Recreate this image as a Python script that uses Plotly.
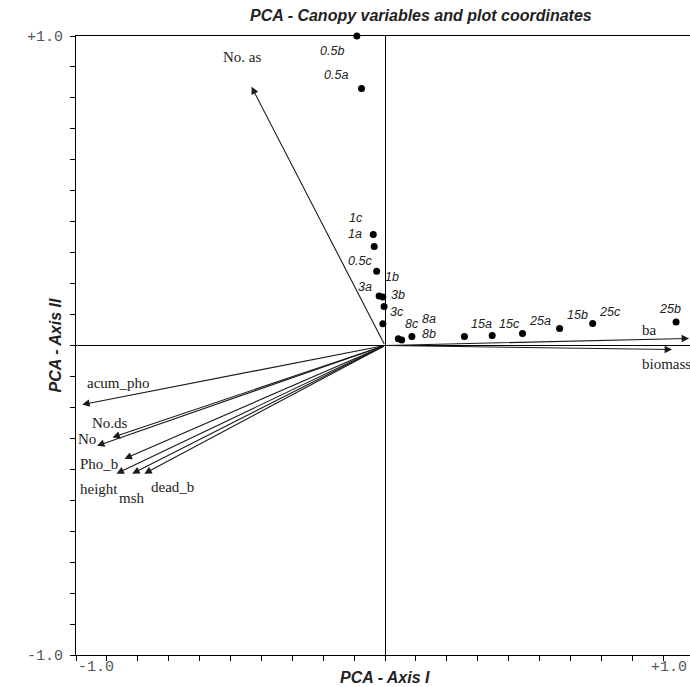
import numpy as np
import plotly.graph_objects as go

# ---- data ----
site_labels = ["0.5b", "0.5a", "1c", "1a", "0.5c", "3a", "1b", "3b", "3c",
               "8c", "8b", "8a", "15a", "15c", "25a", "15b", "25c", "25b"]
site_x = [-0.091, -0.076, -0.038, -0.035, -0.027, -0.019, -0.007, -0.003, -0.007,
          0.043, 0.054, 0.087, 0.257, 0.347, 0.445, 0.565, 0.672, 0.942]
site_y = [1.000, 0.830, 0.359, 0.320, 0.240, 0.160, 0.157, 0.126, 0.070,
          0.022, 0.018, 0.029, 0.029, 0.032, 0.039, 0.055, 0.071, 0.076]

var_labels = ["No. as", "ba", "biomass", "acum_pho", "No.ds", "No",
              "Pho_b", "height", "msh", "dead_b"]
var_x = [-0.432, 0.984, 0.929, -0.980, -0.882, -0.932, -0.843, -0.869, -0.818, -0.779]
var_y = [0.836, 0.023, -0.013, -0.191, -0.297, -0.324, -0.366, -0.414, -0.414, -0.414]

# label offsets in pixels (style)
site_dx = [-25, -26, -17, -19, -17, -14, 9, 14, 14, 14, 27, 17, 17, 17, 17, 18, 17, -6]
site_dy = [-15, 14, 16, 12, 10, 9, 20, 12, 12, 15, 6, 18, 13, 12, 12, 13, 12, 13]
var_dx = [-10, -40, -6, 36, -2, -10, -26, -17, 0, 28]
var_dy = [30, 8, -14, 22, 14, 7, -5, -15, -24, -13]

title = "PCA - Canopy variables and plot coordinates"
xtitle = "PCA - Axis I"
ytitle = "PCA - Axis II"

W, H = 690, 687
ml, mr, mt, mb = 76, 0, 36, 32
px_per_unit = 309.0
xmin = -1.0
xmax = (W - ml - mr) / px_per_unit + xmin

ticks = [round(v, 1) for v in np.arange(-1.0, 1.0001, 0.1)]
yticktext = ["-1.0" if abs(t + 1) < 1e-9 else ("+1.0" if abs(t - 1) < 1e-9 else "") for t in ticks]

fig = go.Figure()
fig.add_trace(go.Scatter(x=site_x, y=site_y, mode="markers",
                         marker=dict(size=7, color="black"),
                         hoverinfo="text", text=site_labels, showlegend=False,
                         cliponaxis=False))

ann = []
# arrows
for lab, x, y in zip(var_labels, var_x, var_y):
    ann.append(dict(x=x, y=y, ax=0, ay=0, xref="x", yref="y", axref="x", ayref="y",
                    text="", showarrow=True, arrowhead=2, arrowsize=1.35,
                    arrowwidth=1.1, arrowcolor="#1a1a1a", standoff=0, startstandoff=0))
# variable labels
for lab, x, y, dx, dy in zip(var_labels, var_x, var_y, var_dx, var_dy):
    ann.append(dict(x=x, y=y, xref="x", yref="y", text=lab, showarrow=False,
                    xshift=dx, yshift=dy, xanchor="center", yanchor="middle",
                    font=dict(family="Liberation Serif", size=15, color="#222")))
# site labels
for lab, x, y, dx, dy in zip(site_labels, site_x, site_y, site_dx, site_dy):
    ann.append(dict(x=x, y=y, xref="x", yref="y", text=lab, showarrow=False,
                    xshift=dx, yshift=dy, xanchor="center", yanchor="middle",
                    font=dict(family="Liberation Sans", size=12.5, color="#222",
                              style="italic")))
# x tick labels
ann.append(dict(x=-1.0, y=0, xref="x", yref="paper", text="-1.0", showarrow=False,
                xanchor="left", yanchor="middle", yshift=-12, xshift=0,
                font=dict(family="Liberation Mono", size=15, color="#555")))
ann.append(dict(x=min(1.0, (1.0 - xmin) / (xmax - xmin)), y=0, xref="paper", yref="paper",
                text="+1.0", showarrow=False, xanchor="right", yanchor="middle",
                yshift=-12, xshift=-1,
                font=dict(family="Liberation Mono", size=15, color="#555")))
# axis titles
ann.append(dict(x=0, y=0, xref="x", yref="paper", text="<b><i>" + xtitle + "</i></b>",
                showarrow=False, xanchor="center", yanchor="middle", yshift=-22,
                font=dict(family="Liberation Sans", size=16, color="#222")))
ann.append(dict(x=0, y=0, xref="paper", yref="y", text="<b><i>" + ytitle + "</i></b>",
                showarrow=False, xanchor="center", yanchor="middle", xshift=-21,
                textangle=-90,
                font=dict(family="Liberation Sans", size=16, color="#222")))
# title
ann.append(dict(x=(421 - ml) / (W - ml - mr), y=1, xref="paper", yref="paper",
                text="<b><i>" + title + "</i></b>", showarrow=False,
                xanchor="center", yanchor="middle", yshift=21,
                font=dict(family="Liberation Sans", size=16, color="#222")))

fig.update_layout(
    width=W, height=H,
    margin=dict(l=ml, r=mr, t=mt, b=mb, pad=0),
    paper_bgcolor="white", plot_bgcolor="white",
    annotations=ann,
    xaxis=dict(range=[xmin, xmax], showgrid=False, zeroline=True,
               zerolinecolor="black", zerolinewidth=1,
               showline=True, linecolor="black", linewidth=1, mirror=True,
               ticks="outside", ticklen=5, tickcolor="black",
               tickmode="array", tickvals=ticks, showticklabels=False),
    yaxis=dict(range=[-1, 1], showgrid=False, zeroline=True,
               zerolinecolor="black", zerolinewidth=1,
               showline=True, linecolor="black", linewidth=1, mirror=False,
               ticks="outside", ticklen=5, tickcolor="black",
               tickmode="array", tickvals=ticks, ticktext=yticktext,
               ticklabelstandoff=4,
               tickfont=dict(family="Liberation Mono", size=15, color="#555")),
)

fig.write_html("out.html")
